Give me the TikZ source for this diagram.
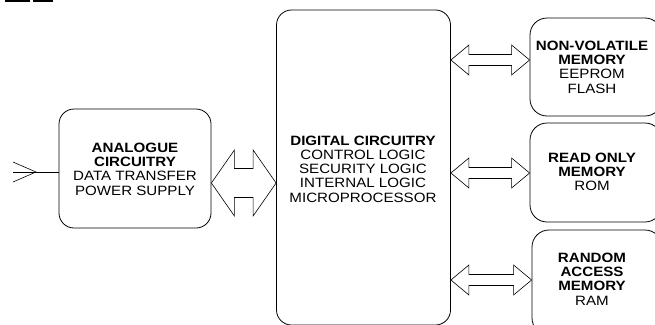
\documentclass[tikz,border=0pt]{standalone}
\usepackage{fontspec}
\setmainfont{Liberation Sans}[FakeStretch=1.12]
\usetikzlibrary{calc}

\tikzset{
  block/.style={draw, line width=0.8pt, rounded corners=15pt, inner sep=0pt},
  label/.style={align=center, inner sep=0pt, font=\fontsize{13.5}{14.3}\selectfont},
  bus/.style={draw, line width=0.6pt, fill=white, line join=miter},
  wire/.style={draw, line width=0.8pt}
}

% hollow double-headed bus arrow between two tips on one row
% #1 left tip, #2 right tip, #3 head half-height, #4 shaft half-height, #5 head length
\newcommand\busarrow[5]{%
  \draw[bus] let \p1=#1, \p2=#2 in
    (\x1,\y1) -- (\x1+#5,\y1+#3) -- (\x1+#5,\y1+#4) -- (\x2-#5,\y1+#4)
    -- (\x2-#5,\y1+#3) -- (\x2,\y1) -- (\x2-#5,\y1-#3) -- (\x2-#5,\y1-#4)
    -- (\x1+#5,\y1-#4) -- (\x1+#5,\y1-#3) -- cycle;}

\begin{document}
\begin{tikzpicture}[x=1pt, y=-1pt]
\useasboundingbox (0,0) rectangle (655,324);
\clip (0,0) rectangle (655,324);

% fragments of a heading above the frame
\fill (5,0) rectangle (30,1.5);
\fill (33,0) rectangle (53,1.5);

% blocks
\node[block, minimum width=152pt, minimum height=119pt] (analogue) at (135,168.5) {};
\node[block, minimum width=174pt, minimum height=315pt] (digital) at (363.5,167.5) {};
\node[block, minimum width=132pt, minimum height=98pt, rounded corners=17pt] (nvm) at (596,67) {};
\node[block, minimum width=132pt, minimum height=99pt, rounded corners=17pt] (rom) at (596,172.5) {};
\node[block, minimum width=130pt, minimum height=105pt, rounded corners=17pt] (ram) at (597,282.5) {};

% block texts
\node[label] (analoguetxt) at (135,169) {\textbf{ANALOGUE}\\\textbf{CIRCUITRY}\\DATA TRANSFER\\POWER SUPPLY};
\node[label] (digitaltxt) at (363,169) {\textbf{DIGITAL CIRCUITRY}\\CONTROL LOGIC\\SECURITY LOGIC\\INTERNAL LOGIC\\MICROPROCESSOR};
\node[label] (nvmtxt) at (592,67) {\textbf{NON-VOLATILE}\\\textbf{MEMORY}\\EEPROM\\FLASH};
\node[label] (romtxt) at (592,172) {\textbf{READ ONLY}\\\textbf{MEMORY}\\ROM};
\node[label] (ramtxt) at (592,279) {\textbf{RANDOM}\\\textbf{ACCESS}\\\textbf{MEMORY}\\RAM};

% antenna input
\coordinate (in) at (13,172);
\coordinate (intip) at (36,172);
\draw[wire] (in) -- (analogue.west |- in);
\draw[line width=0.6pt] ($(intip)+(-23,-10)$) -- (intip) -- ($(intip)+(-23,10)$);

% buses
\busarrow{(analogue.east |- 0,183)}{(digital.west |- 0,183)}{33pt}{14.5pt}{23pt}
\busarrow{(digital.east |- 0,60)}{(nvm.west |- 0,60)}{15pt}{5.5pt}{18pt}
\busarrow{(digital.east |- 0,173)}{(rom.west |- 0,173)}{15pt}{5.5pt}{18pt}
\busarrow{(digital.east |- 0,280)}{(ram.west |- 0,280)}{15pt}{5.5pt}{18pt}
\end{tikzpicture}
\end{document}
